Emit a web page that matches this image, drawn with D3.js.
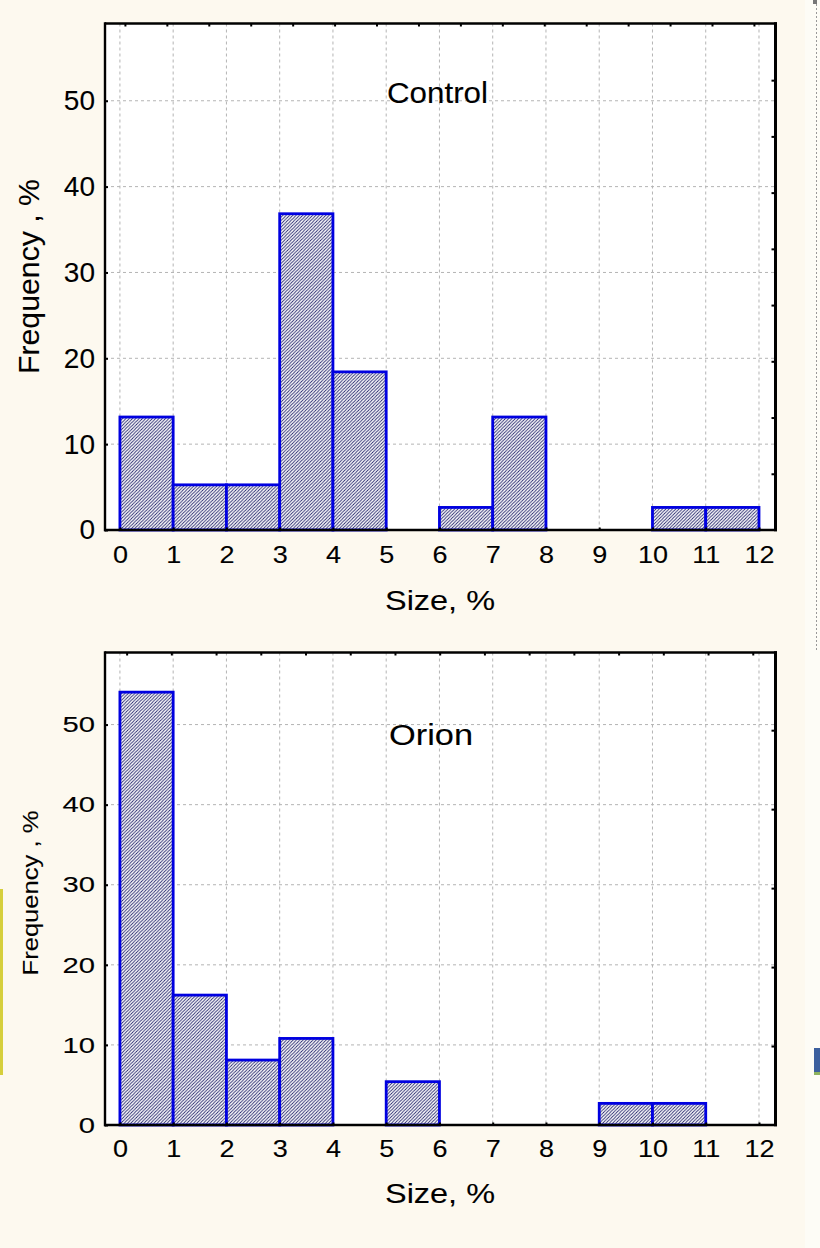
<!DOCTYPE html>
<html>
<head>
<meta charset="utf-8">
<script src="https://cdn.jsdelivr.net/npm/d3@7"></script>
<style>
  body { margin: 0; background: #fdf9ef; }
  svg { display: block; }
  text { font-family: "Liberation Sans", Arial, sans-serif; fill: #000; stroke: #000; stroke-width: 0.1; }
</style>
</head>
<body>
<svg id="chart" width="820" height="1248"></svg>
<script>
// ---- data (percent of observations per 1%-wide size bin) ----
var binEdges = [0, 1, 2, 3, 4, 5, 6, 7, 8, 9, 10, 11, 12];
var controlValues = [13.16, 5.26, 5.26, 36.84, 18.42, 0, 2.63, 13.16, 0, 0, 2.63, 2.63];
var orionValues   = [54.05, 16.22, 8.11, 10.81, 0, 5.41, 0, 0, 0, 2.70, 2.70, 0];
var yTickValues = [0, 10, 20, 30, 40, 50];
var xTickValues = [0, 1, 2, 3, 4, 5, 6, 7, 8, 9, 10, 11, 12];
var titles = ["Control", "Orion"];
var yLabel = "Frequency , %";
var xLabel = "Size, %";

var svg = d3.select("#chart");

// hatch fill like the original
var defs = svg.append("defs");
var pat = defs.append("pattern")
    .attr("id", "hatch")
    .attr("patternUnits", "userSpaceOnUse")
    .attr("width", 3.3).attr("height", 3.3);
pat.append("rect").attr("width", 3.3).attr("height", 3.3).attr("fill", "#fff");
pat.append("path")
    .attr("d", "M-1,1 l2,-2 M0,3.3 l3.3,-3.3 M2.3,4.3 l2,-2")
    .attr("stroke", "#1c1c66").attr("stroke-width", 0.85);

// screenshot leftovers at the page edges
svg.append("rect").attr("x", 805).attr("y", 0).attr("width", 15).attr("height", 1248).attr("fill", "#fdfcf6");
svg.append("line").attr("x1", 816.5).attr("x2", 816.5).attr("y1", 0).attr("y2", 650)
    .attr("stroke", "#999").attr("stroke-dasharray", "2,2");
svg.append("rect").attr("x", 813).attr("y", 0).attr("width", 4).attr("height", 4).attr("fill", "#777");
svg.append("rect").attr("x", 814).attr("y", 1048).attr("width", 6).attr("height", 24).attr("fill", "#3c5f9e");
svg.append("rect").attr("x", 814).attr("y", 1072).attr("width", 6).attr("height", 3).attr("fill", "#8db25e");
svg.append("rect").attr("x", 0).attr("y", 889).attr("width", 3).attr("height", 186).attr("fill", "#d6cf3c");

var panels = [
  { values: controlValues, title: titles[0], top: 23.5, bottom: 530,
    yFont: 28, ySx: 1.0, yTitleFont: 29, yTitleLen: 195, yTitleMid: 276.5, yTitleX: 39,
    titleX: 387, titleY: 103, titleLen: 101,
    topStart: 0.094, topStep: 0.7874, topCount: 16, rightStep: 6.55, rightCount: 8,
    xTickBase: 563, xTitleBase: 610 },
  { values: orionValues, title: titles[1], top: 652.5, bottom: 1125,
    yFont: 22.5, ySx: 1.3, yTitleFont: 21.5, yTitleLen: 165, yTitleMid: 893, yTitleX: 37.5,
    titleX: 389, titleY: 745, titleLen: 84,
    topStart: 0.126, topStep: 0.8398, topCount: 15, rightStep: 9.86, rightCount: 5,
    xTickBase: 1157, xTitleBase: 1203 }
];

var left = 105, right = 775.5;

panels.forEach(function(p) {
  var x = d3.scaleLinear().domain([-0.28, 12.31]).range([left, right]);
  var y = d3.scaleLinear().domain([0, 59]).range([p.bottom, p.top]);
  var g = svg.append("g");

  g.append("rect")
      .attr("x", left).attr("y", p.top)
      .attr("width", right - left).attr("height", p.bottom - p.top)
      .attr("fill", "#fff");

  // dashed grid
  g.append("g").selectAll("line").data(xTickValues).join("line")
      .attr("x1", function(d) { return x(d); }).attr("x2", function(d) { return x(d); })
      .attr("y1", p.top).attr("y2", p.bottom)
      .attr("stroke", "#b4b4b4").attr("stroke-dasharray", "3,3");
  g.append("g").selectAll("line").data(yTickValues.slice(1)).join("line")
      .attr("x1", left).attr("x2", right)
      .attr("y1", function(d) { return y(d); }).attr("y2", function(d) { return y(d); })
      .attr("stroke", "#b4b4b4").attr("stroke-dasharray", "3,3");

  // bars
  var bins = p.values.map(function(v, i) { return { x0: binEdges[i], x1: binEdges[i + 1], v: v }; })
      .filter(function(d) { return d.v > 0; });
  g.append("g").selectAll("rect").data(bins).join("rect")
      .attr("x", function(d) { return x(d.x0); })
      .attr("width", function(d) { return x(d.x1) - x(d.x0); })
      .attr("y", function(d) { return y(d.v); })
      .attr("height", function(d) { return y(0) - y(d.v); })
      .attr("fill", "url(#hatch)")
      .attr("stroke", "#0000e0").attr("stroke-width", 2.8);

  // left axis
  var ya = g.append("g").attr("transform", "translate(" + left + ",0)")
      .call(d3.axisLeft(y).tickValues(yTickValues).tickSize(-3).tickPadding(10));
  ya.select(".domain").remove();
  ya.selectAll("line").attr("stroke", "#000").attr("stroke-width", 2);
  ya.selectAll("text")
      .attr("font-size", p.yFont).attr("font-family", null)
      .attr("transform", "scale(" + p.ySx + ",1)")
      .attr("x", -10 / p.ySx);

  // bottom axis
  var xa = g.append("g").attr("transform", "translate(0," + p.bottom + ")")
      .call(d3.axisBottom(x).tickValues(xTickValues).tickSize(-2.5).tickPadding(0));
  xa.select(".domain").remove();
  xa.selectAll("line").attr("stroke", "#000").attr("stroke-width", 2);
  xa.selectAll("text")
      .attr("font-size", 23.5).attr("font-family", null)
      .attr("dy", null).attr("y", p.xTickBase - p.bottom)
      .attr("transform", "scale(1.15,1)");

  // top axis (secondary scale, unlabelled)
  var topVals = d3.range(p.topCount).map(function(k) { return p.topStart + k * p.topStep; });
  var ta = g.append("g").attr("transform", "translate(0," + p.top + ")")
      .call(d3.axisTop(x).tickValues(topVals).tickSize(-3).tickFormat(""));
  ta.select(".domain").remove();
  ta.selectAll("line").attr("stroke", "#000").attr("stroke-width", 2);

  // right axis (secondary scale, unlabelled)
  var rightVals = d3.range(1, p.rightCount + 1).map(function(k) { return k * p.rightStep; });
  var ra = g.append("g").attr("transform", "translate(" + right + ",0)")
      .call(d3.axisRight(y).tickValues(rightVals).tickSize(-4).tickFormat(""));
  ra.select(".domain").remove();
  ra.selectAll("line").attr("stroke", "#000").attr("stroke-width", 2);

  // frame
  g.append("line").attr("x1", left).attr("x2", right + 1.5).attr("y1", p.top).attr("y2", p.top)
      .attr("stroke", "#000").attr("stroke-width", 2.4);
  g.append("line").attr("x1", left - 1).attr("x2", right + 1.5).attr("y1", p.bottom).attr("y2", p.bottom)
      .attr("stroke", "#000").attr("stroke-width", 2.5);
  g.append("line").attr("x1", left).attr("x2", left).attr("y1", p.top - 1.2).attr("y2", p.bottom + 1.2)
      .attr("stroke", "#000").attr("stroke-width", 2.4);
  g.append("line").attr("x1", right).attr("x2", right).attr("y1", p.top - 1.2).attr("y2", p.bottom + 1.2)
      .attr("stroke", "#000").attr("stroke-width", 3);

  // texts
  g.append("text").attr("x", p.titleX).attr("y", p.titleY)
      .attr("font-size", 30).attr("textLength", p.titleLen).attr("lengthAdjust", "spacingAndGlyphs")
      .text(p.title);
  g.append("text").attr("x", 440).attr("y", p.xTitleBase)
      .attr("text-anchor", "middle").attr("font-size", 28)
      .attr("textLength", 110).attr("lengthAdjust", "spacingAndGlyphs")
      .text(xLabel);
  g.append("text")
      .attr("transform", "translate(" + p.yTitleX + "," + p.yTitleMid + ") rotate(-90)")
      .attr("text-anchor", "middle").attr("font-size", p.yTitleFont)
      .attr("textLength", p.yTitleLen).attr("lengthAdjust", "spacingAndGlyphs")
      .text(yLabel);
});
</script>
</body>
</html>
